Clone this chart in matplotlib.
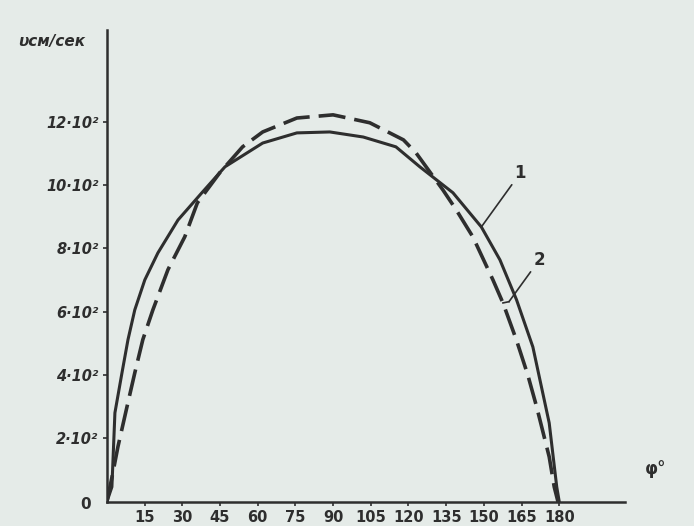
import numpy as np
import matplotlib.pyplot as plt

# curve 1 (solid)
phi_1 = [0, 2, 3.2, 6, 8.4, 11.1, 15.1, 20.3, 28.3, 37.8, 47, 62, 75.6, 88.7, 102, 115,
         124.5, 137.7, 149, 156.4, 163, 169.5, 176, 179, 180]
v_1 = [0, 47, 281, 407, 512, 606, 701, 786, 890, 976, 1058, 1133, 1165, 1168, 1152, 1121,
       1058, 976, 868, 764, 638, 489, 249, 47, 0]

# curve 2 (dashed)
phi_2 = [0, 2.4, 4.4, 8, 11.1, 14.3, 18.3, 24.3, 31, 36, 45, 54, 62, 75.6, 90, 104.6,
         118, 123, 133.7, 139, 145.6, 153.6, 157.6, 163, 167.5, 171, 176, 178, 179.5]
v_2 = [0, 92, 174, 300, 407, 512, 606, 733, 837, 944, 1040, 1121, 1168, 1212, 1222, 1197,
       1143, 1102, 985, 922, 837, 701, 628, 510, 400, 300, 142, 47, 0]

x_ticks = [15, 30, 45, 60, 75, 90, 105, 120, 135, 150, 165, 180]
y_ticks = [200, 400, 600, 800, 1000, 1200]
y_labels = ['2·10²', '4·10²', '6·10²', '8·10²', '10·10²', '12·10²']

bg = '#e5ebe8'
ink = '#2e2e2e'

fig = plt.figure(figsize=(6.94, 5.26), dpi=100, facecolor=bg)
ax = fig.add_axes([0.154, 0.046, 0.746, 0.897], facecolor=bg)

ax.plot(phi_1, v_1, color=ink, lw=2.2)
ax.plot(phi_2, v_2, color=ink, lw=2.6, dashes=(7.5, 2.5))

ax.set_xlim(0, 206)
ax.set_ylim(0, 1490)

for s in ['top', 'right']:
    ax.spines[s].set_visible(False)
for s in ['left', 'bottom']:
    ax.spines[s].set_color(ink)
    ax.spines[s].set_linewidth(1.8)

ax.set_xticks(x_ticks)
ax.set_xticklabels([str(t) for t in x_ticks], fontsize=10.5, fontweight='bold', color=ink)
ax.set_yticks(y_ticks)
ax.set_yticklabels(y_labels, fontsize=10.5, fontweight='bold', color=ink, style='italic')
ax.tick_params(axis='both', color=ink, length=3, width=1.2, pad=3)

ax.text(-0.03, -0.005, '0', transform=ax.transAxes, ha='right', va='center',
        fontsize=11, fontweight='bold', color=ink)
ax.text(-0.172, 0.975, 'υсм/сек', transform=ax.transAxes, ha='left', va='center',
        fontsize=11, fontweight='bold', color=ink, style='italic')
ax.text(1.04, 0.07, 'φ°', transform=ax.transAxes, ha='left', va='center',
        fontsize=12, fontweight='bold', color=ink)

# curve labels with leader lines
ax.annotate('1', xy=(149, 868), xytext=(164.5, 1010), fontsize=12, fontweight='bold',
            color=ink, ha='center', va='bottom',
            arrowprops=dict(arrowstyle='-', color=ink, lw=1.2, shrinkA=0, shrinkB=0))
ax.plot([157.6, 160], [628, 632], color=ink, lw=1.2)
ax.annotate('2', xy=(160, 632), xytext=(172, 735), fontsize=12, fontweight='bold',
            color=ink, ha='center', va='bottom',
            arrowprops=dict(arrowstyle='-', color=ink, lw=1.2, shrinkA=0, shrinkB=0))

fig.savefig('out.png', dpi=100, facecolor=bg)
